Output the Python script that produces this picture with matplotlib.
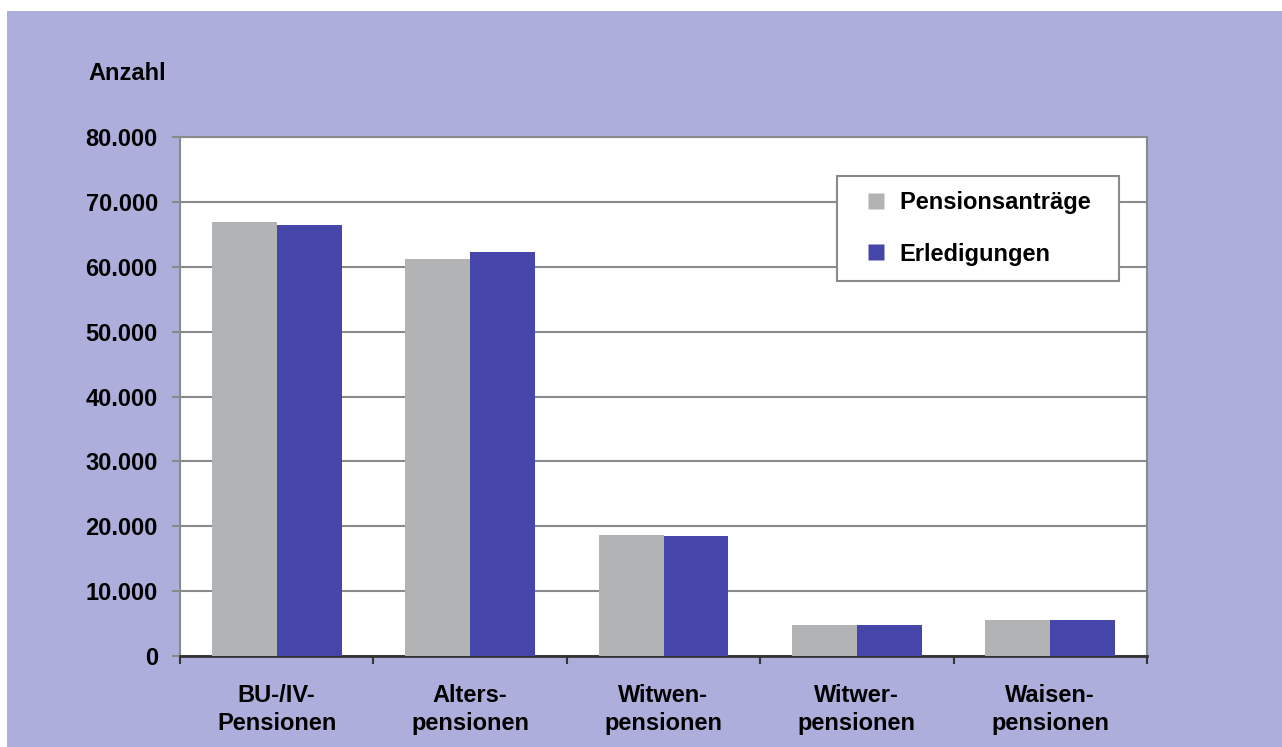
import numpy as np
import matplotlib
matplotlib.use('Agg')
import matplotlib.pyplot as plt
from matplotlib.patches import Rectangle
from matplotlib.lines import Line2D
from matplotlib.ticker import FuncFormatter

# --- Daten ---
kategorien = ['BU-/IV-\nPensionen', 'Alters-\npensionen', 'Witwen-\npensionen',
              'Witwer-\npensionen', 'Waisen-\npensionen']
antraege = [66900, 61200, 18600, 4800, 5500]
erledigungen = [66500, 62200, 18500, 4800, 5500]
y_ticks = [0, 10000, 20000, 30000, 40000, 50000, 60000, 70000, 80000]

FARBE_GRAU = '#B2B3B5'
FARBE_BLAU = '#4646AA'
FARBE_HG = '#ADAEDB'
FARBE_GITTER = '#8A8A8A'

plt.rcParams['font.family'] = ['Liberation Sans', 'DejaVu Sans']
plt.rcParams['font.weight'] = 'bold'
FS = 17

fig = plt.figure(figsize=(12.82, 7.47), dpi=100)
fig.patch.set_facecolor('white')
# lila Hintergrund mit weissem Rand oben/links
fig.patches.append(Rectangle((7 / 1282, 0), 1 - 7 / 1282, 1 - 11 / 747,
                             transform=fig.transFigure, facecolor=FARBE_HG,
                             edgecolor='none', zorder=-10))

ax = fig.add_axes([180 / 1282, 1 - 656 / 747, (1147 - 180) / 1282, (656 - 137) / 747])
ax.set_facecolor('white')

x = np.arange(len(kategorien))
w = 0.336
ax.bar(x - w / 2, antraege, width=w, color=FARBE_GRAU, zorder=3)
ax.bar(x + w / 2, erledigungen, width=w, color=FARBE_BLAU, zorder=3)

ax.set_xlim(-0.5, len(kategorien) - 0.5)
ax.set_ylim(0, 80000)
ax.set_yticks(y_ticks)
ax.yaxis.set_major_formatter(FuncFormatter(lambda v, p: f'{int(v):,}'.replace(',', '.')))
ax.grid(axis='y', color=FARBE_GITTER, linewidth=1.5, zorder=1)
ax.set_axisbelow(True)

# x: Beschriftung in der Mitte, Striche an den Kategoriegrenzen
ax.set_xticks(x)
ax.set_xticklabels(kategorien, fontsize=FS, fontweight='bold', linespacing=1.3)
ax.set_xticks(np.arange(-0.5, len(kategorien)), minor=True)
ax.tick_params(axis='x', which='major', length=0, pad=20)
ax.tick_params(axis='x', which='minor', length=6, width=1.5, color='#333333', direction='out')
ax.tick_params(axis='y', length=6, width=1.5, color=FARBE_GITTER, pad=10, labelsize=FS)
for lbl in ax.get_yticklabels():
    lbl.set_fontweight('bold')

for s in ['left', 'right', 'top']:
    ax.spines[s].set_color(FARBE_GITTER)
    ax.spines[s].set_linewidth(1.5)
ax.spines['bottom'].set_color('#333333')
ax.spines['bottom'].set_linewidth(2)

fig.text(88 / 1282, 1 - 73 / 747, 'Anzahl', fontsize=FS, fontweight='bold', va='center', ha='left')

handles = [Line2D([], [], linestyle='none', marker='s', markersize=11,
                  markerfacecolor=FARBE_GRAU, markeredgecolor='none'),
           Line2D([], [], linestyle='none', marker='s', markersize=11,
                  markerfacecolor=FARBE_BLAU, markeredgecolor='none')]
leg = ax.legend(handles, ['Pensionsanträge  ', 'Erledigungen'], loc='upper right',
                bbox_to_anchor=((1119 - 180) / 967, (656 - 176) / 519),
                borderaxespad=0, prop={'weight': 'bold', 'size': FS},
                handlelength=2.0, handletextpad=0.0,
                labelspacing=1.2, borderpad=0.65, fancybox=False, framealpha=1,
                edgecolor=FARBE_GITTER)
leg.get_frame().set_linewidth(1.5)

fig.savefig('out.png', dpi=100)
